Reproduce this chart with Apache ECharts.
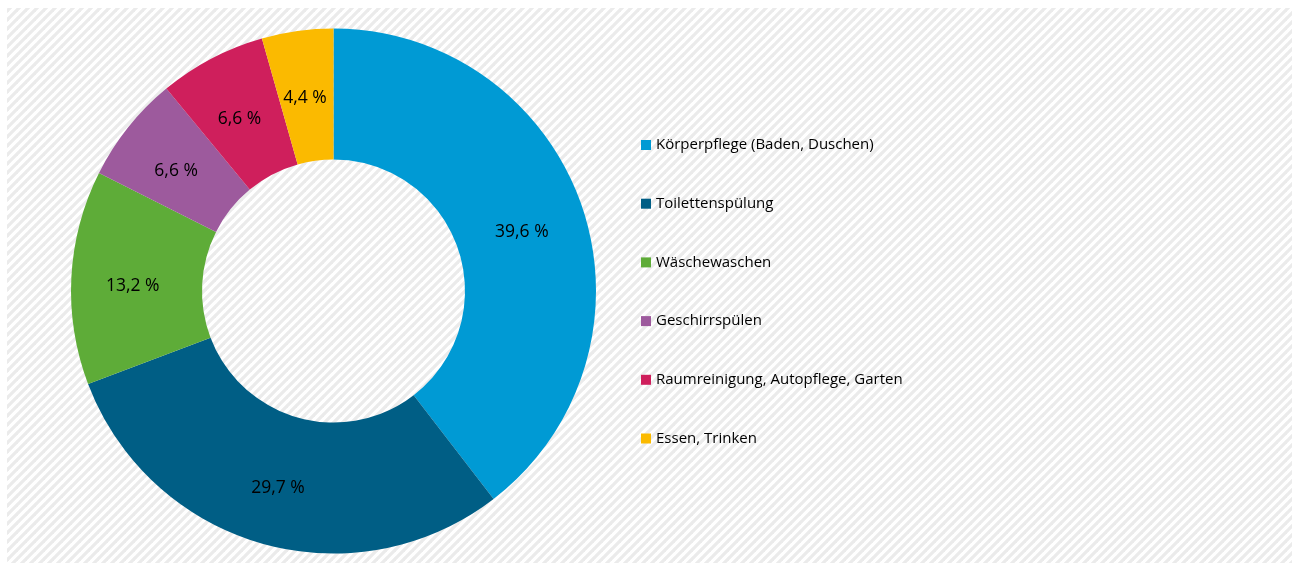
<!DOCTYPE html>
<html>
<head>
<meta charset="utf-8">
<script src="https://cdn.jsdelivr.net/npm/echarts@6/dist/echarts.min.js"></script>
<style>
html,body{margin:0;padding:0;background:#fff;}
#chart{width:1298px;height:565px;}
</style>
</head>
<body>
<div id="chart"></div>
<script>
const categories = ['Körperpflege (Baden, Duschen)', 'Toilettenspülung', 'Wäschewaschen', 'Geschirrspülen', 'Raumreinigung, Autopflege, Garten', 'Essen, Trinken'];
const values = [39.6, 29.7, 13.2, 6.6, 6.6, 4.4];
const colors = ['#009ad4', '#005e85', '#5eac38', '#9d5a9d', '#cf1f5c', '#fbba00'];

// hatch pattern
const tile = document.createElement('canvas');
tile.width = 9; tile.height = 9;
const g = tile.getContext('2d');
g.fillStyle = '#ffffff';
g.fillRect(0, 0, 9, 9);
g.strokeStyle = '#ebebeb';
g.lineWidth = 3.2;
[0, 9, 18].forEach(function (c) {
  g.beginPath();
  g.moveTo(c + 1, -1);
  g.lineTo(c - 10, 10);
  g.stroke();
});

const chart = echarts.init(document.getElementById('chart'));
chart.setOption({
  backgroundColor: '#ffffff',
  animation: false,
  graphic: [{
    type: 'rect',
    z: -10,
    silent: true,
    shape: { x: 7, y: 8, width: 1285, height: 555 },
    style: { fill: { image: tile, repeat: 'repeat' } }
  }],
  legend: {
    orient: 'vertical',
    left: 636,
    top: 132,
    icon: 'rect',
    itemWidth: 10,
    itemHeight: 10,
    itemGap: 42.7,
    textStyle: { fontFamily: 'Open Sans', fontSize: 15, color: '#000', lineHeight: 16 },
    data: categories
  },
  series: [{
    type: 'pie',
    center: [333.5, 291],
    radius: [131.5, 262.5],
    startAngle: 90,
    clockwise: true,
    avoidLabelOverlap: false,
    itemStyle: { borderWidth: 0 },
    label: {
      show: true,
      position: 'inside',
      color: '#000',
      fontFamily: 'Open Sans',
      fontSize: 17.5,
      offset: [-1, 5],
      formatter: function (p) { return String(p.value).replace('.', ',') + ' %'; }
    },
    labelLine: { show: false },
    emphasis: { disabled: true },
    data: categories.map(function (n, i) {
      return { name: n, value: values[i], itemStyle: { color: colors[i] } };
    })
  }]
});
</script>
</body>
</html>
